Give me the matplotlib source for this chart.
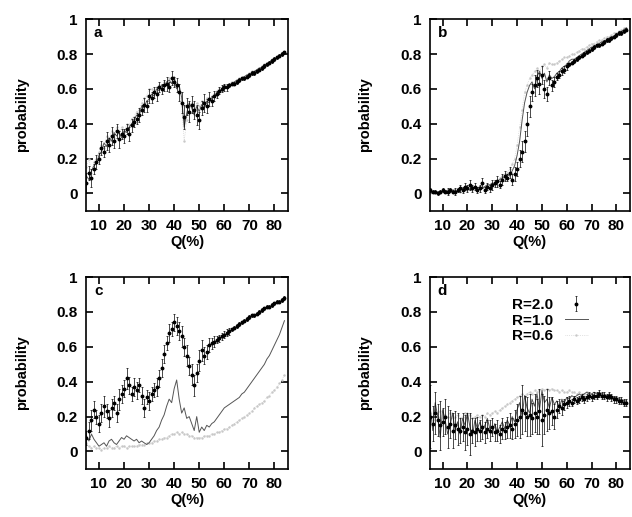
import matplotlib
matplotlib.use("Agg")
import matplotlib.pyplot as plt
import numpy as np

plt.rcParams['font.family'] = ['Liberation Sans', 'DejaVu Sans']
plt.rcParams['font.weight'] = 'bold'

# Q(%) grid of the sampled points
Q = np.arange(5, 85)

# panel a
a_r20 = [0.06, 0.12, 0.09, 0.14, 0.18, 0.20, 0.26, 0.24, 0.30, 0.28,
         0.33, 0.30, 0.36, 0.31, 0.34, 0.33, 0.37, 0.34, 0.39, 0.41,
         0.43, 0.45, 0.48, 0.51, 0.50, 0.56, 0.55, 0.58, 0.57, 0.61,
         0.60, 0.62, 0.63, 0.61, 0.66, 0.64, 0.62, 0.58, 0.52, 0.44,
         0.50, 0.47, 0.51, 0.48, 0.45, 0.42, 0.49, 0.52, 0.50, 0.54,
         0.53, 0.56, 0.57, 0.59, 0.60, 0.61, 0.61, 0.62, 0.63, 0.63,
         0.64, 0.65, 0.66, 0.66, 0.67, 0.68, 0.69, 0.69, 0.70, 0.71,
         0.72, 0.73, 0.74, 0.75, 0.76, 0.77, 0.78, 0.79, 0.80, 0.81]
a_err = [0.06, 0.04, 0.05, 0.03, 0.04, 0.03, 0.04, 0.03, 0.05, 0.04,
         0.05, 0.04, 0.04, 0.05, 0.03, 0.04, 0.03, 0.04, 0.04, 0.03,
         0.03, 0.04, 0.03, 0.04, 0.03, 0.04, 0.03, 0.03, 0.04, 0.03,
         0.03, 0.03, 0.04, 0.03, 0.04, 0.03, 0.04, 0.05, 0.06, 0.07,
         0.05, 0.06, 0.05, 0.05, 0.06, 0.05, 0.04, 0.05, 0.04, 0.04,
         0.03, 0.03, 0.02, 0.02, 0.02, 0.02, 0.02, 0.01, 0.01, 0.01,
         0.01, 0.01, 0.01, 0.01, 0.01, 0.01, 0.01, 0.01, 0.01, 0.01,
         0.01, 0.01, 0.01, 0.01, 0.01, 0.01, 0.01, 0.01, 0.01, 0.01]
a_r10 = [0.10, 0.08, 0.13, 0.16, 0.17, 0.22, 0.24, 0.29, 0.27, 0.32,
         0.30, 0.35, 0.33, 0.35, 0.32, 0.36, 0.35, 0.38, 0.40, 0.42,
         0.45, 0.44, 0.50, 0.49, 0.53, 0.54, 0.57, 0.56, 0.60, 0.59,
         0.62, 0.61, 0.64, 0.65, 0.63, 0.67, 0.60, 0.62, 0.55, 0.38,
         0.46, 0.52, 0.49, 0.45, 0.50, 0.47, 0.51, 0.49, 0.53, 0.52,
         0.55, 0.55, 0.58, 0.58, 0.60, 0.62, 0.61, 0.63, 0.62, 0.64,
         0.65, 0.65, 0.66, 0.67, 0.68, 0.68, 0.69, 0.70, 0.71, 0.72,
         0.72, 0.74, 0.74, 0.75, 0.77, 0.77, 0.78, 0.79, 0.80, 0.81]
a_r06 = [0.15, 0.20, 0.12, 0.18, 0.20, 0.24, 0.28, 0.26, 0.33, 0.30,
         0.36, 0.32, 0.38, 0.36, 0.38, 0.35, 0.40, 0.39, 0.43, 0.44,
         0.47, 0.48, 0.52, 0.55, 0.56, 0.60, 0.60, 0.58, 0.61, 0.62,
         0.60, 0.64, 0.62, 0.66, 0.64, 0.66, 0.63, 0.59, 0.50, 0.30,
         0.42, 0.50, 0.52, 0.47, 0.52, 0.50, 0.53, 0.51, 0.55, 0.54,
         0.56, 0.57, 0.59, 0.60, 0.61, 0.62, 0.62, 0.63, 0.64, 0.64,
         0.65, 0.66, 0.66, 0.67, 0.68, 0.69, 0.70, 0.70, 0.71, 0.72,
         0.73, 0.74, 0.75, 0.75, 0.76, 0.77, 0.78, 0.79, 0.80, 0.81]

# panel b
b_r20 = [0.02, 0.01, 0.01, 0.00, 0.01, 0.02, 0.01, 0.01, 0.02, 0.01,
         0.01, 0.02, 0.03, 0.02, 0.04, 0.03, 0.05, 0.03, 0.04, 0.02,
         0.03, 0.06, 0.02, 0.04, 0.03, 0.05, 0.06, 0.07, 0.05, 0.08,
         0.10, 0.09, 0.12, 0.08, 0.11, 0.14, 0.20, 0.24, 0.30, 0.40,
         0.50, 0.58, 0.62, 0.66, 0.63, 0.68, 0.60, 0.57, 0.66, 0.62,
         0.64, 0.67, 0.68, 0.70, 0.71, 0.73, 0.74, 0.75, 0.76, 0.77,
         0.78, 0.79, 0.80, 0.81, 0.82, 0.83, 0.84, 0.85, 0.85, 0.86,
         0.87, 0.88, 0.88, 0.89, 0.90, 0.91, 0.92, 0.92, 0.93, 0.94]
b_err = [0.01, 0.01, 0.01, 0.01, 0.01, 0.01, 0.01, 0.02, 0.01, 0.01,
         0.02, 0.01, 0.02, 0.02, 0.02, 0.02, 0.03, 0.02, 0.02, 0.02,
         0.02, 0.03, 0.02, 0.02, 0.02, 0.03, 0.02, 0.03, 0.02, 0.03,
         0.03, 0.02, 0.03, 0.03, 0.04, 0.04, 0.05, 0.06, 0.06, 0.07,
         0.06, 0.05, 0.06, 0.05, 0.06, 0.05, 0.05, 0.04, 0.04, 0.03,
         0.03, 0.02, 0.02, 0.02, 0.02, 0.02, 0.01, 0.01, 0.01, 0.01,
         0.01, 0.01, 0.01, 0.01, 0.01, 0.01, 0.01, 0.01, 0.01, 0.01,
         0.01, 0.01, 0.01, 0.01, 0.01, 0.01, 0.01, 0.01, 0.01, 0.01]
b_r10 = [0.01, 0.01, 0.00, 0.01, 0.01, 0.01, 0.01, 0.02, 0.01, 0.02,
         0.02, 0.01, 0.02, 0.03, 0.02, 0.03, 0.02, 0.04, 0.03, 0.03,
         0.04, 0.03, 0.04, 0.05, 0.05, 0.06, 0.05, 0.07, 0.08, 0.09,
         0.09, 0.11, 0.10, 0.13, 0.16, 0.22, 0.30, 0.42, 0.52, 0.58,
         0.62, 0.64, 0.60, 0.67, 0.70, 0.66, 0.69, 0.64, 0.68, 0.66,
         0.67, 0.69, 0.70, 0.72, 0.73, 0.74, 0.76, 0.77, 0.77, 0.78,
         0.79, 0.80, 0.81, 0.82, 0.83, 0.84, 0.84, 0.85, 0.86, 0.87,
         0.87, 0.88, 0.89, 0.90, 0.90, 0.91, 0.92, 0.93, 0.94, 0.95]
b_r06 = [0.00, 0.01, 0.00, 0.01, 0.00, 0.01, 0.01, 0.00, 0.01, 0.01,
         0.01, 0.02, 0.01, 0.02, 0.02, 0.02, 0.03, 0.02, 0.03, 0.03,
         0.03, 0.04, 0.04, 0.05, 0.05, 0.06, 0.07, 0.07, 0.09, 0.10,
         0.11, 0.12, 0.14, 0.17, 0.20, 0.28, 0.38, 0.48, 0.58, 0.62,
         0.66, 0.68, 0.70, 0.72, 0.70, 0.73, 0.74, 0.72, 0.75, 0.74,
         0.74, 0.75, 0.76, 0.77, 0.78, 0.78, 0.79, 0.80, 0.80, 0.81,
         0.82, 0.83, 0.83, 0.84, 0.85, 0.86, 0.86, 0.87, 0.88, 0.88,
         0.89, 0.90, 0.90, 0.91, 0.92, 0.92, 0.93, 0.94, 0.95, 0.95]

# panel c
c_r20 = [0.08, 0.12, 0.18, 0.24, 0.20, 0.16, 0.22, 0.26, 0.23, 0.19,
         0.25, 0.28, 0.22, 0.30, 0.33, 0.36, 0.42, 0.38, 0.33, 0.37,
         0.35, 0.38, 0.32, 0.25, 0.31, 0.29, 0.33, 0.35, 0.37, 0.42,
         0.48, 0.56, 0.62, 0.68, 0.70, 0.74, 0.72, 0.69, 0.66, 0.60,
         0.55, 0.49, 0.44, 0.38, 0.45, 0.52, 0.58, 0.55, 0.57, 0.61,
         0.62, 0.63, 0.64, 0.65, 0.66, 0.67, 0.68, 0.69, 0.70, 0.71,
         0.72, 0.73, 0.74, 0.75, 0.76, 0.77, 0.78, 0.78, 0.79, 0.80,
         0.81, 0.82, 0.83, 0.83, 0.84, 0.85, 0.86, 0.86, 0.87, 0.88]
c_err = [0.04, 0.05, 0.06, 0.05, 0.04, 0.05, 0.05, 0.06, 0.04, 0.05,
         0.05, 0.04, 0.05, 0.06, 0.05, 0.05, 0.06, 0.05, 0.04, 0.05,
         0.05, 0.04, 0.05, 0.05, 0.04, 0.05, 0.04, 0.04, 0.05, 0.05,
         0.05, 0.05, 0.04, 0.05, 0.04, 0.05, 0.05, 0.05, 0.06, 0.05,
         0.06, 0.05, 0.06, 0.06, 0.05, 0.06, 0.06, 0.05, 0.04, 0.04,
         0.03, 0.03, 0.02, 0.02, 0.02, 0.02, 0.02, 0.02, 0.01, 0.01,
         0.01, 0.01, 0.01, 0.01, 0.01, 0.01, 0.01, 0.01, 0.01, 0.01,
         0.01, 0.01, 0.01, 0.01, 0.01, 0.01, 0.01, 0.01, 0.01, 0.01]
c_r10 = [0.09, 0.06, 0.10, 0.07, 0.05, 0.03, 0.04, 0.05, 0.03, 0.06,
         0.07, 0.05, 0.04, 0.06, 0.08, 0.07, 0.09, 0.08, 0.07, 0.06,
         0.07, 0.05, 0.06, 0.05, 0.04, 0.05, 0.07, 0.09, 0.12, 0.14,
         0.18, 0.21, 0.26, 0.30, 0.28, 0.36, 0.41, 0.30, 0.22, 0.25,
         0.19, 0.20, 0.16, 0.12, 0.20, 0.11, 0.14, 0.12, 0.15, 0.14,
         0.16, 0.17, 0.19, 0.21, 0.23, 0.25, 0.26, 0.27, 0.28, 0.29,
         0.30, 0.31, 0.33, 0.34, 0.36, 0.38, 0.40, 0.42, 0.44, 0.46,
         0.48, 0.50, 0.53, 0.55, 0.58, 0.61, 0.64, 0.67, 0.71, 0.75]
c_r06 = [0.05, 0.03, 0.02, 0.03, 0.02, 0.02, 0.01, 0.02, 0.02, 0.03,
         0.02, 0.02, 0.03, 0.02, 0.03, 0.03, 0.02, 0.03, 0.03, 0.03,
         0.03, 0.04, 0.04, 0.04, 0.05, 0.05, 0.05, 0.06, 0.06, 0.07,
         0.07, 0.08, 0.08, 0.09, 0.10, 0.10, 0.11, 0.10, 0.11, 0.10,
         0.10, 0.09, 0.09, 0.08, 0.08, 0.08, 0.08, 0.09, 0.09, 0.09,
         0.10, 0.10, 0.11, 0.11, 0.12, 0.13, 0.13, 0.14, 0.15, 0.16,
         0.17, 0.18, 0.19, 0.20, 0.21, 0.22, 0.23, 0.25, 0.26, 0.27,
         0.28, 0.29, 0.31, 0.32, 0.34, 0.35, 0.37, 0.39, 0.41, 0.44]

# panel d
d_r20 = [0.20, 0.16, 0.22, 0.18, 0.15, 0.17, 0.20, 0.14, 0.16, 0.12,
         0.15, 0.13, 0.12, 0.14, 0.11, 0.13, 0.10, 0.12, 0.11, 0.13,
         0.12, 0.14, 0.11, 0.13, 0.12, 0.14, 0.11, 0.12, 0.10, 0.13,
         0.12, 0.14, 0.15, 0.13, 0.16, 0.18, 0.20, 0.24, 0.22, 0.20,
         0.21, 0.19, 0.22, 0.20, 0.23, 0.18, 0.21, 0.24, 0.22, 0.23,
         0.20, 0.24, 0.26, 0.25, 0.27, 0.28, 0.29, 0.28, 0.30, 0.29,
         0.30, 0.31, 0.30, 0.31, 0.32, 0.31, 0.32, 0.32, 0.33, 0.32,
         0.32, 0.31, 0.32, 0.31, 0.30, 0.30, 0.29, 0.29, 0.28, 0.28]
d_err = [0.18, 0.10, 0.12, 0.09, 0.14, 0.08, 0.10, 0.12, 0.08, 0.10,
         0.08, 0.09, 0.07, 0.08, 0.10, 0.09, 0.12, 0.07, 0.08, 0.07,
         0.06, 0.07, 0.06, 0.05, 0.06, 0.05, 0.05, 0.06, 0.05, 0.06,
         0.05, 0.06, 0.07, 0.06, 0.08, 0.09, 0.12, 0.14, 0.10, 0.11,
         0.12, 0.09, 0.11, 0.10, 0.13, 0.15, 0.11, 0.12, 0.09, 0.08,
         0.07, 0.05, 0.04, 0.04, 0.03, 0.03, 0.03, 0.02, 0.02, 0.02,
         0.02, 0.02, 0.02, 0.02, 0.02, 0.02, 0.02, 0.02, 0.02, 0.02,
         0.02, 0.02, 0.02, 0.02, 0.02, 0.02, 0.02, 0.02, 0.02, 0.02]
d_r10 = [0.25, 0.12, 0.28, 0.20, 0.08, 0.24, 0.18, 0.10, 0.15, 0.22,
         0.12, 0.17, 0.10, 0.19, 0.15, 0.22, 0.14, 0.09, 0.18, 0.13,
         0.17, 0.12, 0.15, 0.19, 0.13, 0.10, 0.16, 0.11, 0.14, 0.17,
         0.13, 0.18, 0.15, 0.20, 0.17, 0.24, 0.28, 0.20, 0.32, 0.25,
         0.22, 0.30, 0.26, 0.33, 0.24, 0.35, 0.28, 0.30, 0.25, 0.31,
         0.27, 0.29, 0.25, 0.30, 0.28, 0.31, 0.30, 0.32, 0.31, 0.32,
         0.33, 0.32, 0.33, 0.34, 0.33, 0.33, 0.34, 0.33, 0.34, 0.33,
         0.33, 0.32, 0.33, 0.32, 0.31, 0.31, 0.30, 0.30, 0.29, 0.29]
d_r06 = [0.22, 0.18, 0.24, 0.20, 0.23, 0.19, 0.21, 0.20, 0.22, 0.19,
         0.20, 0.21, 0.19, 0.20, 0.22, 0.20, 0.21, 0.19, 0.20, 0.21,
         0.20, 0.21, 0.20, 0.22, 0.21, 0.22, 0.23, 0.22, 0.24, 0.25,
         0.26, 0.27, 0.28, 0.29, 0.30, 0.31, 0.32, 0.33, 0.32, 0.33,
         0.34, 0.33, 0.35, 0.34, 0.35, 0.36, 0.35, 0.36, 0.35, 0.36,
         0.35, 0.35, 0.34, 0.35, 0.34, 0.34, 0.35, 0.34, 0.34, 0.33,
         0.34, 0.33, 0.33, 0.34, 0.33, 0.33, 0.32, 0.33, 0.32, 0.32,
         0.32, 0.31, 0.31, 0.31, 0.30, 0.30, 0.30, 0.29, 0.29, 0.29]

panels = [
    ("a", a_r20, a_err, a_r10, a_r06),
    ("b", b_r20, b_err, b_r10, b_r06),
    ("c", c_r20, c_err, c_r10, c_r06),
    ("d", d_r20, d_err, d_r10, d_r06),
]

# axes boxes in figure fractions [left, bottom, width, height]
boxes = [
    [0.136, 0.592, 0.320, 0.371],
    [0.680, 0.592, 0.317, 0.371],
    [0.136, 0.093, 0.320, 0.371],
    [0.680, 0.093, 0.317, 0.371],
]

fig = plt.figure(figsize=(6.32, 5.17), dpi=100)

for (name, r20, err, r10, r06), box in zip(panels, boxes):
    ax = fig.add_axes(box)
    ax.plot(Q, r06, color='#c8c8c8', lw=0.5, ls=':', marker='.', ms=1.5,
            label='R=0.6')
    ax.plot(Q, r10, color='#555555', lw=0.7, label='R=1.0')
    ax.errorbar(Q, r20, yerr=err, fmt='o', ms=1.8, color='black',
                ecolor='black', elinewidth=0.5, capsize=1, capthick=0.5,
                label='R=2.0')

    ax.set_xlim(4.8, 85.5)
    ax.set_ylim(-0.1, 1)
    ax.set_xticks(range(10, 90, 10))
    ax.set_yticks([0, 0.2, 0.4, 0.6, 0.8, 1])
    ax.set_yticklabels(['0', '0.2', '0.4', '0.6', '0.8', '1'])
    ax.tick_params(direction='in', length=5, width=1.2, top=True,
                   right=True, labelsize=11, pad=6)
    for sp in ax.spines.values():
        sp.set_linewidth(1.2)
    ax.set_xlabel('Q(%)', fontsize=10.5, fontweight='bold', labelpad=1)
    ax.set_ylabel('probability', fontsize=10.5, fontweight='bold',
                  labelpad=20)
    ax.text(8, 0.92, name, fontsize=11, fontweight='bold', va='center')

    if name == 'd':
        h, l = ax.get_legend_handles_labels()
        ax.legend(h[::-1], l[::-1], loc='upper left',
                  bbox_to_anchor=(0.37, 0.93), frameon=False,
                  markerfirst=False, handlelength=1.5, labelspacing=0.1,
                  borderpad=0, fontsize=11)

fig.savefig('out.png', dpi=100)
